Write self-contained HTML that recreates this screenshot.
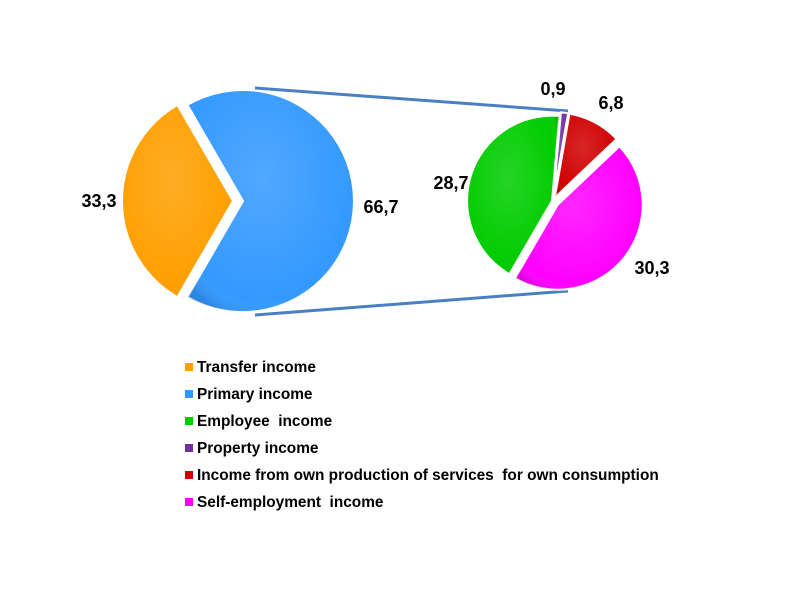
<!DOCTYPE html>
<html><head><meta charset="utf-8"><style>
body{margin:0;background:#fff;}
svg text{font-family:"Liberation Sans",Arial,sans-serif;font-weight:bold;}
</style></head><body>
<svg id="chart" width="800" height="600" viewBox="0 0 800 600">
<defs>
<radialGradient id="shade" cx="45%" cy="40%" r="65%">
<stop offset="0%" stop-color="#fff" stop-opacity="0.15"/>
<stop offset="85%" stop-color="#fff" stop-opacity="0"/>
<stop offset="100%" stop-color="#000" stop-opacity="0.12"/>
</radialGradient>
</defs>
<g id="g"></g>
</svg>
<script>
const mainLabels=["Transfer income","Primary income"];
const mainValues=[33.3,66.7];
const subLabels=["Property income","Income from own production of services for own consumption","Self-employment income","Employee income"];
const subValues=[0.9,6.8,30.3,28.7];
const legendLabels=["Transfer income","Primary income","Employee  income","Property income","Income from own production of services  for own consumption","Self-employment  income"];

const NS="http://www.w3.org/2000/svg";
const g=document.getElementById('g');
function mk(t,a){const e=document.createElementNS(NS,t);for(const k in a)e.setAttribute(k,a[k]);g.appendChild(e);return e;}
function pt(cx,cy,r,deg){const a=deg*Math.PI/180;return [cx+r*Math.sin(a),cy-r*Math.cos(a)];}
function slice(cx,cy,r,a0,a1,expl,color,name){
  const mid=(a0+a1)/2;const o=pt(0,0,expl,mid);cx+=o[0];cy+=o[1];
  const p0=pt(cx,cy,r,a0),p1=pt(cx,cy,r,a1);const large=(a1-a0)>180?1:0;
  const d=`M${cx},${cy}L${p0[0]},${p0[1]}A${r},${r} 0 ${large} 1 ${p1[0]},${p1[1]}Z`;
  let e=mk('path',{d:d,fill:color,stroke:'#fff','stroke-width':2,'stroke-linejoin':'miter'});
  
  
  let s=mk('path',{d:d,fill:'url(#shade)'});
  
  
}
function label(x,y,t,name,anchor){const e=mk('text',{x:x,y:y,'font-size':18,'text-anchor':anchor||'middle',fill:'#000'});e.textContent=t;
  }
function fmt(v){return v.toFixed(1).replace('.',',');}

// connector lines
let l1=mk('line',{x1:255,y1:88,x2:568,y2:111,stroke:'#4a7fc1','stroke-width':3});

let l2=mk('line',{x1:255,y1:315,x2:568,y2:291,stroke:'#4a7fc1','stroke-width':3});


// main pie
const mainColors=['#FF9F00','#3399FF'];
const mTot=mainValues.reduce((a,b)=>a+b,0);
const mSpan0=mainValues[0]/mTot*360;
slice(238,201,111,270-mSpan0/2,270+mSpan0/2,5,mainColors[0],'slice-transfer-income');
slice(238,201,111,90-(360-mSpan0)/2,90+(360-mSpan0)/2,5,mainColors[1],'slice-primary-income');
label(99,207,fmt(mainValues[0]),'label-transfer-income');
label(381,213,fmt(mainValues[1]),'label-primary-income');

// secondary pie
const subColors=['#7030A0','#D00000','#FF00FF','#00CC00'];
const subExpl=[4,4,6,1];
const subNames=['slice-property-income','slice-own-production-income','slice-self-employment-income','slice-employee-income'];
const sTot=subValues.reduce((a,b)=>a+b,0);
let a=5;
subValues.forEach((v,i)=>{const sp=v/sTot*360;slice(553,201,85,a,a+sp,subExpl[i],subColors[i],subNames[i]);a+=sp;});
label(553,95,fmt(subValues[0]),'label-property-income');
label(611,109,fmt(subValues[1]),'label-own-production-income');
label(652,274,fmt(subValues[2]),'label-self-employment-income');
label(451,189,fmt(subValues[3]),'label-employee-income');

// legend
const legColors=['#FF9F00','#3399FF','#00CC00','#7030A0','#D00000','#FF00FF'];
legendLabels.forEach((t,i)=>{
  const y=367+i*27;
  let r=mk('rect',{x:185,y:y-4,width:8,height:8,fill:legColors[i]});
  
  let e=mk('text',{x:197,y:y+5,'font-size':15.4,fill:'#000'});e.textContent=t;
  e.style.whiteSpace='pre';
  
});
</script>
</body></html>
